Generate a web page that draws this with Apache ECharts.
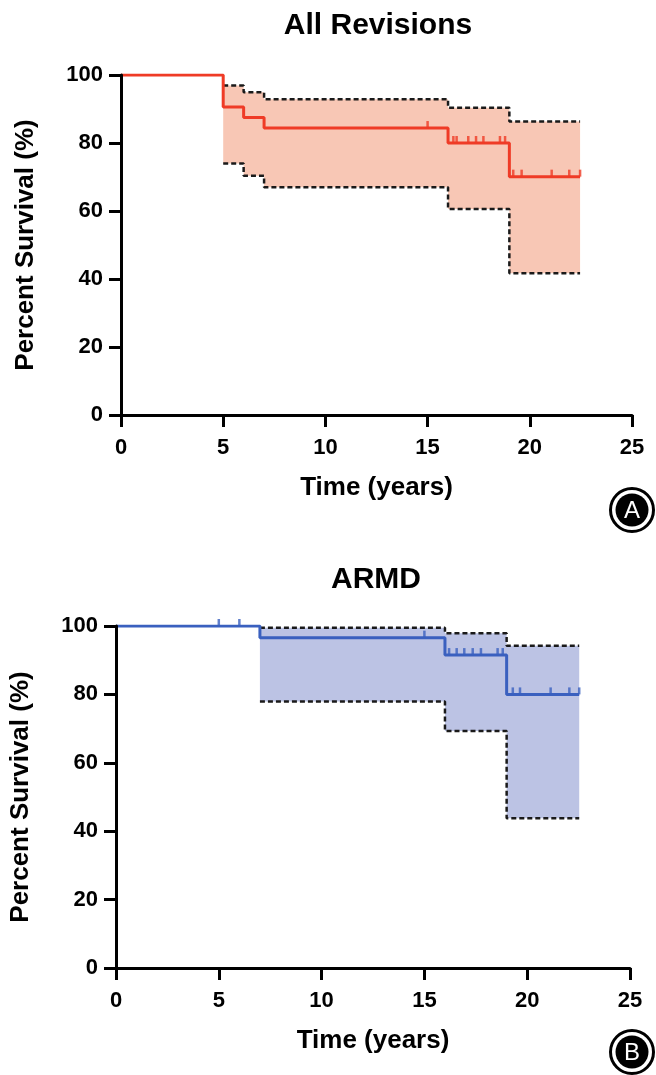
<!DOCTYPE html>
<html>
<head>
<meta charset="utf-8">
<script src="https://cdn.jsdelivr.net/npm/echarts@6/dist/echarts.min.js"></script>
<style>
html,body{margin:0;padding:0;background:#fff;}
#chart{width:656px;height:1075px;}
</style>
</head>
<body>
<div id="chart"></div>
<script>
// ---- Data: panel A (All Revisions) ----
var timesA = [0, 5, 6, 7, 16, 19, 22.46];
var survA = [100, 90.6, 87.5, 84.4, 80.0, 70.1, 70.1];
var ciTimesA = [5, 6, 7, 16, 19, 22.46];
var upperA = [96.9, 94.9, 92.9, 90.4, 86.3, 86.3];
var lowerA = [74.0, 70.4, 67.0, 60.6, 41.7, 41.7];
var censorA = [15, 16.26, 16.42, 16.99, 17.37, 17.73, 18.54, 18.79, 19.19, 19.6, 21.07, 21.93, 22.46];

// ---- Data: panel B (ARMD) ----
var timesB = [0, 7, 16, 19, 22.53];
var survB = [100, 96.6, 91.5, 80.0, 80.0];
var ciTimesB = [7, 16, 19, 22.53];
var upperB = [99.5, 97.9, 94.2, 94.2];
var lowerB = [77.9, 69.3, 43.8, 43.8];
var censorB = [5, 6, 15, 16.2, 16.57, 16.94, 17.35, 17.75, 18.56, 18.81, 19.3, 19.65, 21.14, 22.05, 22.53];

var FONT = 'Liberation Sans, Arial, Helvetica, sans-serif';

function pairs(xs, ys) { return xs.map(function (x, i) { return [x, ys[i]]; }); }
function survAt(ts, ss, t) {
  var v = ss[0];
  for (var i = 0; i < ts.length; i++) { if (ts[i] <= t) v = ss[i]; }
  return v;
}

function makeAxes(gi) {
  var axisCommon = {
    gridIndex: gi,
    type: 'value',
    z: 10,
    axisLine: { show: true, lineStyle: { color: '#000', width: 3 } },
    axisTick: { show: true, length: 12, lineStyle: { color: '#000', width: 3 } },
    splitLine: { show: false },
    nameLocation: 'middle',
    nameTextStyle: { color: '#000', fontWeight: 'bold', fontSize: 26, fontFamily: FONT }
  };
  var x = Object.assign({}, axisCommon, {
    min: 0, max: 25, interval: 5, name: 'Time (years)', nameGap: 60,
    axisLabel: { color: '#000', fontWeight: 'bold', fontSize: 22, fontFamily: FONT, margin: 22 }
  });
  var y = Object.assign({}, axisCommon, {
    min: 0, max: 100, interval: 20, name: 'Percent Survival (%)', nameGap: 82,
    axisLabel: { color: '#000', fontWeight: 'bold', fontSize: 22, fontFamily: FONT, margin: 18 }
  });
  return { x: x, y: y };
}

function bandSeries(gi, cts, up, lo, fillColor) {
  return {
    type: 'custom', xAxisIndex: gi, yAxisIndex: gi, z: 1, silent: true,
    data: [[cts[0], lo[0]]],
    renderItem: function (params, api) {
      var pts = [];
      var n = cts.length;
      for (var i = 0; i < n - 1; i++) {
        pts.push(api.coord([cts[i], up[i]]));
        pts.push(api.coord([cts[i + 1], up[i]]));
      }
      for (var j = n - 1; j > 0; j--) {
        pts.push(api.coord([cts[j], lo[j - 1]]));
        pts.push(api.coord([cts[j - 1], lo[j - 1]]));
      }
      return { type: 'polygon', shape: { points: pts }, style: { fill: fillColor } };
    }
  };
}

function makeSeries(gi, ts, ss, cts, up, lo, cens, lineColor, fillColor) {
  var dash = { color: '#1a1a1a', width: 2.5, type: [5, 3] };
  return [
    bandSeries(gi, cts, up, lo, fillColor),
    {
      type: 'line', xAxisIndex: gi, yAxisIndex: gi, step: 'end',
      symbol: 'none', data: pairs(cts, up), z: 2, lineStyle: dash
    },
    {
      type: 'line', xAxisIndex: gi, yAxisIndex: gi, step: 'end',
      symbol: 'none', data: pairs(cts, lo), z: 2, lineStyle: dash
    },
    {
      type: 'line', xAxisIndex: gi, yAxisIndex: gi, step: 'end',
      symbol: 'none', data: pairs(ts, ss), z: 4,
      lineStyle: { color: lineColor, width: 3 }
    },
    {
      type: 'scatter', xAxisIndex: gi, yAxisIndex: gi, z: 5,
      symbol: 'rect', symbolSize: [2.5, 7], symbolOffset: [0, -3.5],
      itemStyle: { color: lineColor },
      data: cens.map(function (t) { return [t, survAt(ts, ss, t)]; })
    }
  ];
}

function badge(cx, cy, letter) {
  return {
    type: 'group', x: cx, y: cy, children: [
      { type: 'circle', shape: { cx: 0, cy: 0, r: 21.5 }, style: { fill: '#fff', stroke: '#000', lineWidth: 3 } },
      { type: 'circle', shape: { cx: 0, cy: 0, r: 16.5 }, style: { fill: '#000' } },
      { type: 'text', x: 0, y: 1, style: { text: letter, fill: '#fff', font: '24px ' + FONT, align: 'center', verticalAlign: 'middle' } }
    ]
  };
}

var axA = makeAxes(0), axB = makeAxes(1);
var chart = echarts.init(document.getElementById('chart'));
chart.setOption({
  animation: false,
  backgroundColor: '#fff',
  grid: [
    { left: 121, top: 75, width: 511, height: 340 },
    { left: 116, top: 626, width: 514, height: 342 }
  ],
  xAxis: [axA.x, axB.x],
  yAxis: [axA.y, axB.y],
  graphic: [
    { type: 'text', x: 378, y: 26, style: { text: 'All Revisions', fill: '#000', font: 'bold 30px ' + FONT, align: 'center', verticalAlign: 'middle' } },
    { type: 'text', x: 376, y: 580, style: { text: 'ARMD', fill: '#000', font: 'bold 30px ' + FONT, align: 'center', verticalAlign: 'middle' } },
    badge(632, 510, 'A'),
    badge(632, 1052, 'B')
  ],
  series: [].concat(
    makeSeries(0, timesA, survA, ciTimesA, upperA, lowerA, censorA, '#ef3b26', '#f8c7b5'),
    makeSeries(1, timesB, survB, ciTimesB, upperB, lowerB, censorB, '#3a60bf', '#bcc3e4')
  )
});
</script>
</body>
</html>
